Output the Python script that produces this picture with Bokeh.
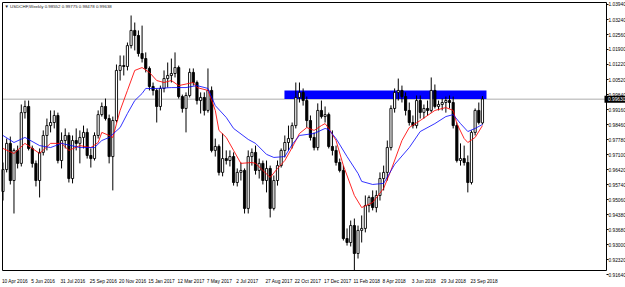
from bokeh.plotting import figure
from bokeh.models import (Range1d, FixedTicker, Label, NumeralTickFormatter, ColumnDataSource,
                          LinearAxis)
from bokeh.embed import file_html
from bokeh.resources import INLINE

# ---- weekly USDCHF bars (bar index 0 = week of 10 Apr 2016) ----
opens = [0.9543, 0.9643, 0.9762, 0.9593, 0.9730, 0.9671, 0.9902, 0.9930, 0.9739, 0.9671,
         0.9593, 0.9721, 0.9798, 0.9843, 0.9857, 0.9889, 0.9684, 0.9775, 0.9798, 0.9602,
         0.9775, 0.9762, 0.9789, 0.9812, 0.9707, 0.9693, 0.9798, 0.9893, 0.9930, 0.9875,
         0.9702, 0.9866, 1.0094, 1.0116, 1.0112, 1.0207, 1.0276, 1.0253, 1.0171, 1.0148,
         1.0103, 1.0021, 1.0003, 0.9930, 1.0012, 1.0057, 1.0071, 1.0080, 1.0107, 0.9975,
         0.9921, 0.9980, 1.0085, 1.0039, 0.9957, 0.9971, 0.9912, 1.0003, 0.9730, 0.9748,
         0.9630, 0.9693, 0.9684, 0.9702, 0.9584, 0.9630, 0.9639, 0.9466, 0.9702, 0.9721,
         0.9639, 0.9671, 0.9593, 0.9648, 0.9466, 0.9593, 0.9661, 0.9730, 0.9766, 0.9784,
         0.9843, 0.9971, 0.9994, 0.9957, 0.9866, 0.9789, 0.9743, 0.9912, 0.9884, 0.9893,
         0.9748, 0.9730, 0.9675, 0.9639, 0.9329, 0.9311, 0.9388, 0.9261, 0.9366, 0.9375,
         0.9479, 0.9516, 0.9470, 0.9525, 0.9602, 0.9630, 0.9743, 0.9921, 0.9994, 1.0003,
         0.9975, 0.9912, 0.9857, 0.9843, 0.9957, 0.9903, 0.9921, 0.9912, 1.0003, 0.9930,
         0.9939, 0.9948, 0.9957, 0.9948, 0.9843, 0.9684, 0.9693, 0.9675, 0.9584, 0.9812,
         0.9912, 0.98552]
highs = [0.9675, 0.9784, 0.9793, 0.9739, 0.9752, 0.9939, 0.9957, 0.9957, 0.9752, 0.9684,
         0.9739, 0.9821, 0.9875, 0.9912, 0.9912, 0.9902, 0.9812, 0.9830, 0.9812, 0.9798,
         0.9830, 0.9821, 0.9843, 0.9830, 0.9739, 0.9812, 0.9912, 0.9948, 0.9966, 0.9893,
         0.9884, 1.0121, 1.0162, 1.0162, 1.0221, 1.0344, 1.0312, 1.0276, 1.0298, 1.0176,
         1.0112, 1.0039, 1.0012, 1.0025, 1.0094, 1.0130, 1.0148, 1.0176, 1.0116, 0.9984,
         0.9994, 1.0103, 1.0103, 1.0048, 0.9994, 0.9994, 1.0103, 1.0021, 0.9784, 0.9757,
         0.9807, 0.9730, 0.9730, 0.9721, 0.9648, 0.9675, 0.9648, 0.9730, 0.9739, 0.9752,
         0.9693, 0.9684, 0.9684, 0.9661, 0.9616, 0.9684, 0.9739, 0.9798, 0.9843, 0.9857,
         1.0039, 1.0039, 1.0012, 0.9975, 0.9889, 0.9812, 0.9944, 0.9957, 0.9930, 0.9902,
         0.9821, 0.9752, 0.9693, 0.9661, 0.9375, 0.9411, 0.9420, 0.9388, 0.9434, 0.9525,
         0.9525, 0.9548, 0.9548, 0.9630, 0.9661, 0.9775, 0.9935, 1.0012, 1.0057, 1.0025,
         0.9994, 0.9948, 0.9889, 0.9980, 0.9980, 0.9939, 0.9957, 1.0062, 1.0030, 0.9957,
         0.9966, 0.9975, 0.9980, 0.9975, 0.9857, 0.9762, 0.9752, 0.9707, 0.9821, 0.9921,
         0.9948, 0.99775]
lows = [0.9502, 0.9630, 0.9575, 0.9443, 0.9648, 0.9657, 0.9875, 0.9730, 0.9652, 0.9566,
        0.9516, 0.9707, 0.9730, 0.9812, 0.9830, 0.9671, 0.9648, 0.9739, 0.9584, 0.9580,
        0.9730, 0.9671, 0.9739, 0.9693, 0.9652, 0.9684, 0.9784, 0.9884, 0.9866, 0.9671,
        0.9548, 0.9857, 1.0048, 1.0071, 1.0094, 1.0194, 1.0185, 1.0157, 1.0130, 1.0085,
        1.0003, 0.9980, 0.9857, 0.9912, 0.9994, 1.0016, 1.0039, 1.0062, 0.9966, 0.9902,
        0.9812, 0.9971, 1.0025, 0.9939, 0.9898, 0.9889, 0.9902, 0.9721, 0.9702, 0.9616,
        0.9612, 0.9666, 0.9657, 0.9570, 0.9566, 0.9593, 0.9443, 0.9443, 0.9661, 0.9620,
        0.9602, 0.9575, 0.9539, 0.9425, 0.9457, 0.9570, 0.9652, 0.9698, 0.9730, 0.9739,
        0.9830, 0.9948, 0.9934, 0.9834, 0.9775, 0.9730, 0.9730, 0.9875, 0.9857, 0.9739,
        0.9707, 0.9661, 0.9630, 0.9320, 0.9297, 0.9293, 0.9184, 0.9238, 0.9311, 0.9357,
        0.9448, 0.9457, 0.9448, 0.9502, 0.9548, 0.9593, 0.9730, 0.9902, 0.9957, 0.9948,
        0.9889, 0.9843, 0.9830, 0.9830, 0.9875, 0.9875, 0.9889, 0.9902, 0.9921, 0.9912,
        0.9912, 0.9902, 0.9921, 0.9830, 0.9675, 0.9661, 0.9661, 0.9539, 0.9575, 0.9798,
        0.9848, 0.98478]
closes = [0.9643, 0.9762, 0.9593, 0.9730, 0.9671, 0.9902, 0.9930, 0.9739, 0.9671, 0.9593,
          0.9721, 0.9798, 0.9843, 0.9857, 0.9889, 0.9684, 0.9775, 0.9798, 0.9602, 0.9775,
          0.9762, 0.9789, 0.9812, 0.9707, 0.9693, 0.9798, 0.9893, 0.9930, 0.9875, 0.9702,
          0.9866, 1.0094, 1.0116, 1.0112, 1.0207, 1.0276, 1.0253, 1.0171, 1.0148, 1.0103,
          1.0021, 1.0003, 0.9930, 1.0012, 1.0057, 1.0071, 1.0080, 1.0107, 0.9975, 0.9921,
          0.9980, 1.0085, 1.0039, 0.9957, 0.9971, 0.9912, 1.0003, 0.9730, 0.9748, 0.9630,
          0.9693, 0.9684, 0.9702, 0.9584, 0.9630, 0.9639, 0.9466, 0.9702, 0.9721, 0.9639,
          0.9671, 0.9593, 0.9648, 0.9466, 0.9593, 0.9661, 0.9730, 0.9766, 0.9784, 0.9843,
          0.9971, 0.9994, 0.9957, 0.9866, 0.9789, 0.9743, 0.9912, 0.9884, 0.9893, 0.9748,
          0.9730, 0.9675, 0.9639, 0.9329, 0.9311, 0.9388, 0.9261, 0.9366, 0.9375, 0.9479,
          0.9516, 0.9470, 0.9525, 0.9602, 0.9630, 0.9743, 0.9921, 0.9994, 1.0003, 0.9975,
          0.9912, 0.9857, 0.9843, 0.9957, 0.9903, 0.9921, 0.9912, 1.0003, 0.9930, 0.9939,
          0.9948, 0.9957, 0.9948, 0.9843, 0.9684, 0.9693, 0.9675, 0.9584, 0.9812, 0.9912,
          0.9857, 0.99638]

# ---- moving averages (bar index, value) ----
red_ma_bars = [0, 3, 6, 10, 13, 16, 18, 21, 24, 26, 27, 29, 30, 32, 34, 36, 38, 40, 42, 44,
               46, 48, 52, 53, 56, 58, 59, 61, 63, 65, 68, 69, 71, 73, 75, 77, 79, 81, 83, 85,
               87, 88, 89, 91, 93, 96, 98, 101, 104, 106, 109, 111, 114, 118, 121, 123, 124,
               126, 127, 129, 131]
red_ma_vals = [0.9739, 0.9716, 0.9762, 0.9716, 0.9762, 0.9762, 0.9730, 0.9752, 0.9743, 0.9766,
               0.9812, 0.9798, 0.9789, 0.9912, 1.0003, 1.0094, 1.0107, 1.0085, 1.0048, 1.0039,
               1.0048, 1.0025, 1.0039, 1.0016, 1.0003, 0.9912, 0.9821, 0.9789, 0.9730, 0.9671,
               0.9675, 0.9671, 0.9639, 0.9607, 0.9648, 0.9684, 0.9743, 0.9807, 0.9834, 0.9821,
               0.9843, 0.9852, 0.9830, 0.9775, 0.9661, 0.9525, 0.9470, 0.9493, 0.9557, 0.9639,
               0.9775, 0.9834, 0.9866, 0.9912, 0.9925, 0.9912, 0.9852, 0.9784, 0.9766, 0.9789,
               0.9843]
blue_ma_bars = [0, 3, 6, 10, 13, 16, 21, 25, 27, 29, 32, 34, 36, 38, 39, 42, 46, 50, 53, 56,
                58, 61, 63, 67, 69, 72, 74, 77, 79, 81, 85, 88, 89, 91, 94, 97, 98, 101, 104,
                107, 111, 114, 118, 121, 123, 125, 127, 129, 131]
blue_ma_vals = [0.9798, 0.9766, 0.9789, 0.9752, 0.9743, 0.9762, 0.9743, 0.9743, 0.9775, 0.9789,
                0.9834, 0.9898, 0.9957, 0.9989, 1.0012, 1.0012, 1.0016, 1.0016, 1.0025, 1.0012,
                0.9934, 0.9880, 0.9830, 0.9780, 0.9762, 0.9712, 0.9698, 0.9702, 0.9757, 0.9798,
                0.9807, 0.9830, 0.9825, 0.9784, 0.9702, 0.9625, 0.9589, 0.9575, 0.9580, 0.9666,
                0.9743, 0.9816, 0.9852, 0.9884, 0.9893, 0.9852, 0.9816, 0.9830, 0.9848]

# ---- drawn zone (rectangle object) and bid line ----
zone_left_bar = 76.9
zone_right_bar = 132.1
zone_low = 0.9964
zone_high = 1.0003
bid_price = 0.99630

# ---- axes ----
x_label_bars = [0, 8, 16, 24, 32, 40, 48, 56, 64, 72, 80, 88, 96, 104, 112, 120, 128]
x_labels = ["10 Apr 2016", "5 Jun 2016", "31 Jul 2016", "25 Sep 2016", "20 Nov 2016",
            "15 Jan 2017", "12 Mar 2017", "7 May 2017", "2 Jul 2017", "27 Aug 2017",
            "22 Oct 2017", "17 Dec 2017", "11 Feb 2018", "8 Apr 2018", "3 Jun 2018",
            "29 Jul 2018", "23 Sep 2018"]
y_ticks = [1.03940, 1.03240, 1.02560, 1.01900, 1.01220, 1.00520, 0.99840, 0.99160, 0.98460,
           0.97780, 0.97100, 0.96420, 0.95740, 0.95060, 0.94380, 0.93680, 0.93000, 0.92320,
           0.91640]
title_text = "\u25bc USDCHF,Weekly  0.98552 0.99775 0.98478 0.99638"

# ---- page geometry (the plot frame covers the whole canvas; MetaTrader-style scales) ----
W, H = 625, 287
FONT = "Liberation Sans"
X_FONT_PX = 4.8
Y_FONT_PX = 4.8
PX_PER_BAR = 3.66
BAR0_PX = 2.5
CHART_L_PX, CHART_R_PX, CHART_T_PX, CHART_B_PX = 2, 606, 2, 270
PRICE_AT_TOP = 1.04122           # price at canvas row 0
PRICE_PER_PX = 0.00045505


def bx(px):
    return (px - BAR0_PX) / PX_PER_BAR


def py(px):
    return PRICE_AT_TOP - px * PRICE_PER_PX


X_START, X_END = bx(0), bx(W)
Y_START, Y_END = py(H), py(0)
X_LEFT, X_EDGE = bx(CHART_L_PX), bx(CHART_R_PX)
Y_TOP, Y_BOTTOM = py(CHART_T_PX), py(CHART_B_PX)

# Arial-metric advance widths (em) used to left-align the time labels on their bars
_W = {" ": .278, "0": .556, "1": .556, "2": .556, "3": .556, "4": .556, "5": .556, "6": .556,
      "7": .556, "8": .556, "9": .556, "A": .667, "D": .722, "F": .611, "J": .5, "M": .833,
      "N": .722, "O": .778, "S": .667, "a": .556, "b": .556, "c": .5, "e": .556, "g": .556,
      "l": .222, "n": .556, "o": .556, "p": .556, "r": .333, "t": .278, "u": .556, "v": .5,
      "y": .5, ".": .278}


def text_px(s, size):
    return sum(_W.get(ch, .556) for ch in s) * size


x_tick_pos = [round(b - 0.3 + text_px(t, X_FONT_PX) / 2.0 / PX_PER_BAR, 3)
              for b, t in zip(x_label_bars, x_labels)]

n = len(opens)
bars = list(range(n))
up_idx = [i for i in bars if closes[i] >= opens[i]]
dn_idx = [i for i in bars if closes[i] < opens[i]]

src_up = ColumnDataSource(dict(
    x=up_idx,
    top=[closes[i] for i in up_idx],
    bottom=[opens[i] for i in up_idx]))
src_dn = ColumnDataSource(dict(
    x=dn_idx,
    top=[opens[i] for i in dn_idx],
    bottom=[closes[i] for i in dn_idx]))
src_wick = ColumnDataSource(dict(x=bars, lo=lows, hi=highs))

p = figure(width=W, height=H, output_backend="svg", toolbar_location=None,
           x_range=Range1d(X_START, X_END), y_range=Range1d(Y_START, Y_END),
           x_axis_location=None, y_axis_location=None, title=None,
           min_border_left=0, min_border_right=0, min_border_top=0, min_border_bottom=0)
p.background_fill_color = "white"
p.border_fill_color = "white"
p.outline_line_color = None
p.grid.visible = False

# bid line, then zone rectangle (background objects)
p.line(x=[X_LEFT, X_EDGE], y=[bid_price, bid_price], line_color="#c8c8c8", line_width=1.5)
p.quad(left=[zone_left_bar], right=[zone_right_bar], bottom=[zone_low], top=[zone_high],
       fill_color="#0000ff", line_color="#0000ff", line_width=0)

# candles
p.segment(x0="x", y0="lo", x1="x", y1="hi", source=src_wick, line_color="black", line_width=1)
p.vbar(x="x", width=0.6, top="top", bottom="bottom", source=src_up,
       fill_color="white", line_color="black", line_width=0.9)
p.vbar(x="x", width=0.6, top="top", bottom="bottom", source=src_dn,
       fill_color="black", line_color="black", line_width=0.9)

# moving averages
p.line(x=red_ma_bars, y=red_ma_vals, line_color="#ff0000", line_width=1, line_alpha=0.85)
p.line(x=blue_ma_bars, y=blue_ma_vals, line_color="#0000ff", line_width=1, line_alpha=0.8)

# chart frame
p.quad(left=[X_LEFT], right=[X_EDGE], bottom=[Y_BOTTOM], top=[Y_TOP],
       fill_color=None, line_color="black", line_width=1)

# price scale on the right edge of the chart
ya = LinearAxis(fixed_location=X_EDGE, ticker=FixedTicker(ticks=y_ticks, minor_ticks=[]),
                formatter=NumeralTickFormatter(format="0.00000"),
                axis_line_color=None, major_tick_line_color="black",
                major_tick_out=2, major_tick_in=0, minor_tick_out=0, minor_tick_in=0,
                major_label_standoff=0, major_label_text_color="black",
                major_label_text_font=FONT, major_label_text_font_size="%.1fpx" % Y_FONT_PX)
p.add_layout(ya, "right")

# time scale under the chart: labels left-aligned on their bars
xa = LinearAxis(fixed_location=Y_BOTTOM, ticker=FixedTicker(ticks=x_tick_pos, minor_ticks=[]),
                major_label_overrides={pos: t for pos, t in zip(x_tick_pos, x_labels)},
                axis_line_color=None, major_tick_out=0, major_tick_in=0,
                minor_tick_out=0, minor_tick_in=0, major_label_standoff=8,
                major_label_text_color="black", major_label_text_font=FONT,
                major_label_text_font_size="%.1fpx" % X_FONT_PX)
p.add_layout(xa, "below")

# current price box on the price scale
box_half = 3.5 * PRICE_PER_PX
p.quad(left=[bx(CHART_R_PX - 2)], right=[X_END], bottom=[bid_price - box_half],
       top=[bid_price + box_half], fill_color="black", line_color="black", line_width=0)
p.add_layout(Label(x=X_EDGE, y=bid_price, x_units="data", y_units="data", x_offset=1.5,
                   text="%.5f" % bid_price, text_font=FONT,
                   text_font_size="%.1fpx" % Y_FONT_PX, text_color="white",
                   text_align="left", text_baseline="middle"))

# chart caption
p.add_layout(Label(x=bx(4), y=py(5.5), x_units="data", y_units="data", text=title_text,
                   text_font=FONT, text_font_size="4.4px", text_color="#202020",
                   text_align="left", text_baseline="middle"))

open("out.html", "w").write(file_html(p, INLINE))
